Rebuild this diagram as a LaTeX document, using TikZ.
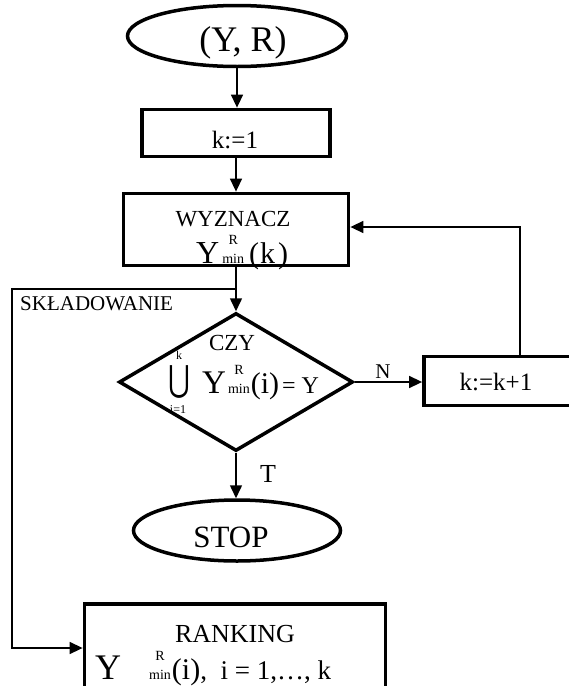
\documentclass[tikz,border=0pt]{standalone}
\usepackage{fontspec}
\setmainfont{Liberation Serif}
\newfontfamily\symf{DejaVu Sans}
\usetikzlibrary{shapes.geometric,arrows.meta}
\newcommand\fs[1]{\fontsize{#1}{#1}\selectfont}
\newcommand\YRmin[3]{{\fs{#1}Y}\kern#3{\fs{#2}\begin{tabular}[b]{@{}c@{}}R\\[5pt]min\end{tabular}}}
\tikzset{
  box/.style={draw, rectangle, line width=3.8pt, inner sep=0pt},
  oval/.style={draw, ellipse, line width=3.5pt, inner sep=0pt},
  dia/.style={draw, diamond, line width=3.5pt, inner sep=0pt},
  flow/.style={line width=1.5pt, -{Triangle[length=13pt,width=12pt]}},
  txt/.style={inner sep=0pt}
}
\begin{document}
\begin{tikzpicture}[x=1pt,y=-1pt]
\useasboundingbox (0,0) rectangle (569,686);
\clip (0,0) rectangle (569,686);
% nodes
\node[oval, minimum width=219pt, minimum height=61pt] (start) at (237,36) {};
\node[txt, font=\fs{36}] (startlbl) at (243,43) {(Y, R)};
\node[box, minimum width=188pt, minimum height=47pt] (k1) at (236,133) {};
\node[txt, font=\fs{25}, anchor=base] (k1lbl) at (235,148) {k:=1};
\node[box, minimum width=225pt, minimum height=72pt] (wyz) at (236,229.5) {};
\node[txt, font=\fs{23}, anchor=base] (wyzlbl) at (233,226) {WYZNACZ};
\node[txt, anchor=base west] (wyzf) at (196,263) {\YRmin{32}{14}{3pt}\kern5pt{\fs{30}(\kern1pt k\kern3pt)}};
\node[dia, minimum width=234pt, minimum height=138pt] (cond) at (236,382) {};
\node[txt, font=\fs{23}, anchor=base] (czy) at (232,350) {CZY};
\node[txt, font=\fs{12}, anchor=base] (unik) at (179,359) {k};
\node[txt, font=\symf\fs{36}, xscale=0.74, anchor=base] (unicup) at (179,391) {⋃};
\node[txt, font=\fs{12}, anchor=base] (unii) at (178,413) {i=1};
\node[txt, anchor=base west] (condf) at (202,393) {\YRmin{33}{14}{2pt}\kern1pt{\fs{30}(i)}\kern3pt{\fs{24}= Y}};
\node[txt, font=\fs{21}] (nlbl) at (383,372) {N};
\node[box, minimum width=148pt, minimum height=49pt] (kk) at (498,381) {};
\node[txt, font=\fs{25}, anchor=base] (kklbl) at (496,390) {k:=k+1};
\node[txt, font=\fs{26}] (tlbl) at (268,474) {T};
\node[oval, minimum width=207pt, minimum height=61pt] (stop) at (237,530.5) {};
\node[txt, font=\fs{31}, anchor=base] (stoplbl) at (231,547) {STOP};
\node[txt, font=\fs{21}, anchor=base west] (skl) at (20,310) {SKŁADOWANIE};
\node[box, minimum width=301pt, minimum height=120pt, anchor=north] (rank) at (235,602) {};
\node[txt, font=\fs{26}, anchor=base] (ranklbl) at (235,642) {RANKING};
\node[txt, anchor=base west] (rankf) at (95,679) {\YRmin{36}{14}{28pt}\kern1pt{\fs{30}(i)}{\fs{27}, \ i = 1,…, k}};
% connectors
\coordinate (split) at (236,289);
\coordinate (corner1) at (12,289);
\coordinate (corner2) at (12,648);
\coordinate (ret) at (520,227);
\draw[flow] (start.south) -- (start.south |- k1.north);
\draw[flow] (k1.south) -- (k1.south |- wyz.north);
\draw[flow] (wyz.south) -- (cond.north);
\draw[flow] (split) -- (corner1) -- (corner2) -- (corner2 -| rank.west);
\draw[flow] (cond.east) -- (cond.east -| kk.west);
\draw[flow] (ret |- kk.north) -- (ret) -- (ret -| wyz.east);
\draw[flow] (cond.south) -- (cond.south |- stop.north);
\end{tikzpicture}
\end{document}
